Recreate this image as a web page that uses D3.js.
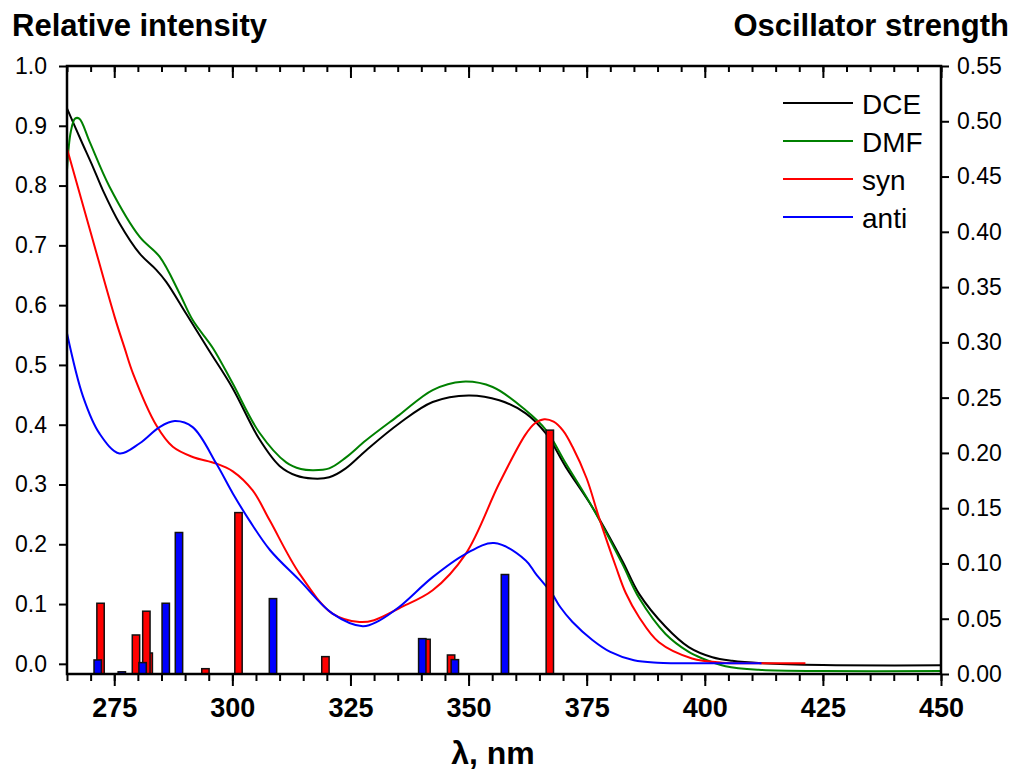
<!DOCTYPE html>
<html lang="en">
<head>
<meta charset="UTF-8">
<title>Absorption spectra and oscillator strengths</title>
<script src="https://d3js.org/d3.v7.min.js"></script>
<style>
    body { margin: 0; background: #fff; }
    svg { font-family: "Liberation Sans", Arial, sans-serif; }
</style>
</head>
<body>
<div id="chart"></div>
<script>
    // Measured spectra (wavelength, nm / relative intensity)
    const dceWl = [265, 268, 270.5, 272.6, 276.1, 280.4, 283.9, 286, 290.2, 295, 300, 305.7, 310, 313.5, 317, 320.5, 324, 328.3, 335.3, 342.4, 350, 356.5, 362.1, 366.4, 370.6, 376.2, 382.5, 386.1, 391.7, 396.6, 401.6, 405.8, 412, 425, 450];
    const dceVal = [0.929, 0.875, 0.831, 0.792, 0.737, 0.686, 0.659, 0.639, 0.586, 0.525, 0.462, 0.376, 0.331, 0.315, 0.310, 0.312, 0.327, 0.357, 0.402, 0.438, 0.449, 0.441, 0.419, 0.385, 0.329, 0.262, 0.173, 0.117, 0.062, 0.028, 0.011, 0.005, 0.001, -0.002, -0.0025];

    const dmfWl = [265, 265.8, 266.7, 267.6, 269.8, 274, 280.4, 284.6, 288.8, 291.6, 295.9, 300, 305.7, 311.4, 314.5, 317, 320.5, 324, 328.3, 335.3, 342.4, 348.7, 355.1, 362.1, 366.4, 370.6, 376.2, 382.5, 386.1, 391.7, 396.6, 399.5, 404.4, 411.4, 425, 450];
    const dmfVal = [0.826, 0.89, 0.912, 0.912, 0.873, 0.798, 0.714, 0.681, 0.62, 0.575, 0.528, 0.47, 0.387, 0.337, 0.326, 0.324, 0.327, 0.345, 0.374, 0.416, 0.458, 0.472, 0.463, 0.424, 0.391, 0.335, 0.262, 0.168, 0.11, 0.05, 0.02, 0.009, -0.004, -0.01, -0.012, -0.012];

    // Calculated spectra
    const synWl = [265, 270, 275.1, 277.2, 279, 283.9, 287.4, 291.6, 296.6, 300.1, 304.3, 307.9, 314.2, 321.2, 326.9, 330, 335.3, 342.4, 349.4, 356.5, 362, 364, 366, 368, 370, 372, 375, 377.6, 381.2, 383.3, 386.1, 390.3, 397.3, 403.7, 410, 421.3];
    const synVal = [0.862, 0.722, 0.58, 0.528, 0.485, 0.399, 0.363, 0.346, 0.335, 0.322, 0.29, 0.24, 0.151, 0.084, 0.07, 0.073, 0.093, 0.123, 0.184, 0.302, 0.383, 0.402, 0.409, 0.405, 0.39, 0.363, 0.31, 0.245, 0.162, 0.118, 0.078, 0.036, 0.009, 0.002, 0.001, 0.001];

    const antiWl = [265, 268.4, 271.9, 276.1, 280.4, 284.6, 287.8, 291.6, 296.6, 300.1, 303.6, 308, 314.2, 321.2, 327.6, 331, 335.3, 342.4, 349.4, 355.4, 362.1, 364.2, 367.7, 369.4, 372, 376.2, 380, 385, 390, 400, 412];
    const antiVal = [0.553, 0.447, 0.385, 0.352, 0.369, 0.396, 0.406, 0.396, 0.335, 0.285, 0.24, 0.19, 0.14, 0.084, 0.063, 0.072, 0.095, 0.145, 0.184, 0.202, 0.173, 0.151, 0.117, 0.095, 0.07, 0.04, 0.02, 0.006, 0.002, 0.001, 0.001];

    // Oscillator strengths (sticks)
    const synBarWl = [272.1, 279.6, 282.3, 281.8, 294.3, 301.3, 319.7, 341.1, 346.3, 367.2];
    const synBarF  = [0.064, 0.0353, 0.019, 0.0568, 0.0048, 0.146, 0.0157, 0.0314, 0.0172, 0.2206];
    const antiBarWl = [271.5, 276.6, 281.0, 285.9, 288.7, 308.6, 340.2, 347.1, 357.7];
    const antiBarF  = [0.0127, 0.002, 0.0103, 0.064, 0.128, 0.0682, 0.032, 0.013, 0.09];

    // Tick labels
    const xMajorTicks = [275, 300, 325, 350, 375, 400, 425, 450];
    const xMinorTicks = d3.range(265, 451, 5);
    const leftTicks = [0, 0.1, 0.2, 0.3, 0.4, 0.5, 0.6, 0.7, 0.8, 0.9, 1.0];
    const rightTicks = [0, 0.05, 0.1, 0.15, 0.2, 0.25, 0.3, 0.35, 0.4, 0.45, 0.5, 0.55];

    const seriesNames = ["DCE", "DMF", "syn", "anti"];
    const seriesColors = ["#000000", "#008000", "#ff0000", "#0000ff"];

    const width = 1016, height = 772;
    const margin = {top: 66, right: 75, bottom: 98, left: 67};
    const x0 = margin.left, x1 = width - margin.right;
    const y0 = margin.top, y1 = height - margin.bottom;

    const svg = d3.select("#chart")
        .append("svg")
        .attr("width", width)
        .attr("height", height);

    const x = d3.scaleLinear().domain([265, 450]).range([x0, x1]);
    const yL = d3.scaleLinear().domain([-0.017, 1.0]).range([y1, y0]);
    const yR = d3.scaleLinear().domain([0, 0.55]).range([y1, y0]);

    // Curves
    const line = d3.line()
        .x(d => x(d[0]))
        .y(d => yL(d[1]))
        .curve(d3.curveCatmullRom.alpha(0.5));

    const curves = [
        d3.zip(dceWl, dceVal),
        d3.zip(dmfWl, dmfVal),
        d3.zip(synWl, synVal),
        d3.zip(antiWl, antiVal)
    ];

    svg.append("g")
        .selectAll("path")
        .data(curves)
        .enter()
        .append("path")
        .attr("fill", "none")
        .attr("stroke", (d, i) => seriesColors[i])
        .attr("stroke-width", 2)
        .attr("d", line);

    // Bars: syn first, anti drawn over them
    const barHalf = 0.78;
    function drawBars(wl, f, color) {
        svg.append("g")
            .selectAll("rect")
            .data(d3.zip(wl, f))
            .enter()
            .append("rect")
            .attr("x", d => x(d[0] - barHalf))
            .attr("width", d => x(d[0] + barHalf) - x(d[0] - barHalf))
            .attr("y", d => yR(d[1]))
            .attr("height", d => yR(0) - yR(d[1]))
            .attr("fill", color)
            .attr("stroke", "#111")
            .attr("stroke-width", 1.5);
    }
    drawBars(synBarWl, synBarF, "#ff0000");
    drawBars(antiBarWl, antiBarF, "#0000ff");

    // Axes
    function style(g, size, weight) {
        g.select(".domain").remove();
        g.selectAll(".tick line").attr("stroke-width", 2);
        g.attr("font-size", size)
            .attr("font-weight", weight || "normal")
            .attr("font-family", "'Liberation Sans', Arial, sans-serif");
        g.selectAll("text").attr("fill", "#000");
    }

    svg.append("g")
        .attr("transform", `translate(0,${y1})`)
        .call(d3.axisBottom(x).tickValues(xMinorTicks).tickSize(7).tickFormat(""))
        .call(style, 22);

    svg.append("g")
        .attr("transform", `translate(0,${y1})`)
        .call(d3.axisBottom(x).tickValues(xMajorTicks).tickSize(12).tickPadding(12).tickFormat(d3.format("d")))
        .call(style, 27, "bold");

    svg.append("g")
        .attr("transform", `translate(0,${y0})`)
        .call(d3.axisBottom(x).tickValues(xMinorTicks).tickSize(6).tickFormat(""))
        .call(style, 22);

    svg.append("g")
        .attr("transform", `translate(0,${y0})`)
        .call(d3.axisBottom(x).tickValues(xMajorTicks).tickSize(12).tickFormat(""))
        .call(style, 22);

    svg.append("g")
        .attr("transform", `translate(${x0},0)`)
        .call(d3.axisLeft(yL).tickValues(leftTicks).tickSize(8).tickPadding(12).tickFormat(d3.format(".1f")))
        .call(style, 23);

    svg.append("g")
        .attr("transform", `translate(${x1},0)`)
        .call(d3.axisRight(yR).tickValues(rightTicks).tickSize(8).tickPadding(8).tickFormat(d3.format(".2f")))
        .call(style, 23);

    // Frame
    svg.append("rect")
        .attr("x", x0)
        .attr("y", y0)
        .attr("width", x1 - x0)
        .attr("height", y1 - y0)
        .attr("fill", "none")
        .attr("stroke", "#000")
        .attr("stroke-width", 2.5);

    // Titles
    svg.append("text")
        .attr("x", 12)
        .attr("y", 36)
        .attr("font-size", 31)
        .attr("font-weight", "bold")
        .text("Relative intensity");

    svg.append("text")
        .attr("x", 1009)
        .attr("y", 36)
        .attr("text-anchor", "end")
        .attr("font-size", 31)
        .attr("font-weight", "bold")
        .text("Oscillator strength");

    svg.append("text")
        .attr("x", 493)
        .attr("y", 764)
        .attr("text-anchor", "middle")
        .attr("font-size", 32)
        .attr("font-weight", "bold")
        .text("λ, nm");

    // Legend
    const legend = svg.append("g");
    seriesNames.forEach((name, i) => {
        const ly = 103 + i * 38;
        legend.append("line")
            .attr("x1", 783).attr("x2", 853)
            .attr("y1", ly).attr("y2", ly)
            .attr("stroke", seriesColors[i])
            .attr("stroke-width", 2);
        legend.append("text")
            .attr("x", 862)
            .attr("y", ly + 10.5)
            .attr("font-size", 28)
            .text(name);
    });
</script>
</body>
</html>
